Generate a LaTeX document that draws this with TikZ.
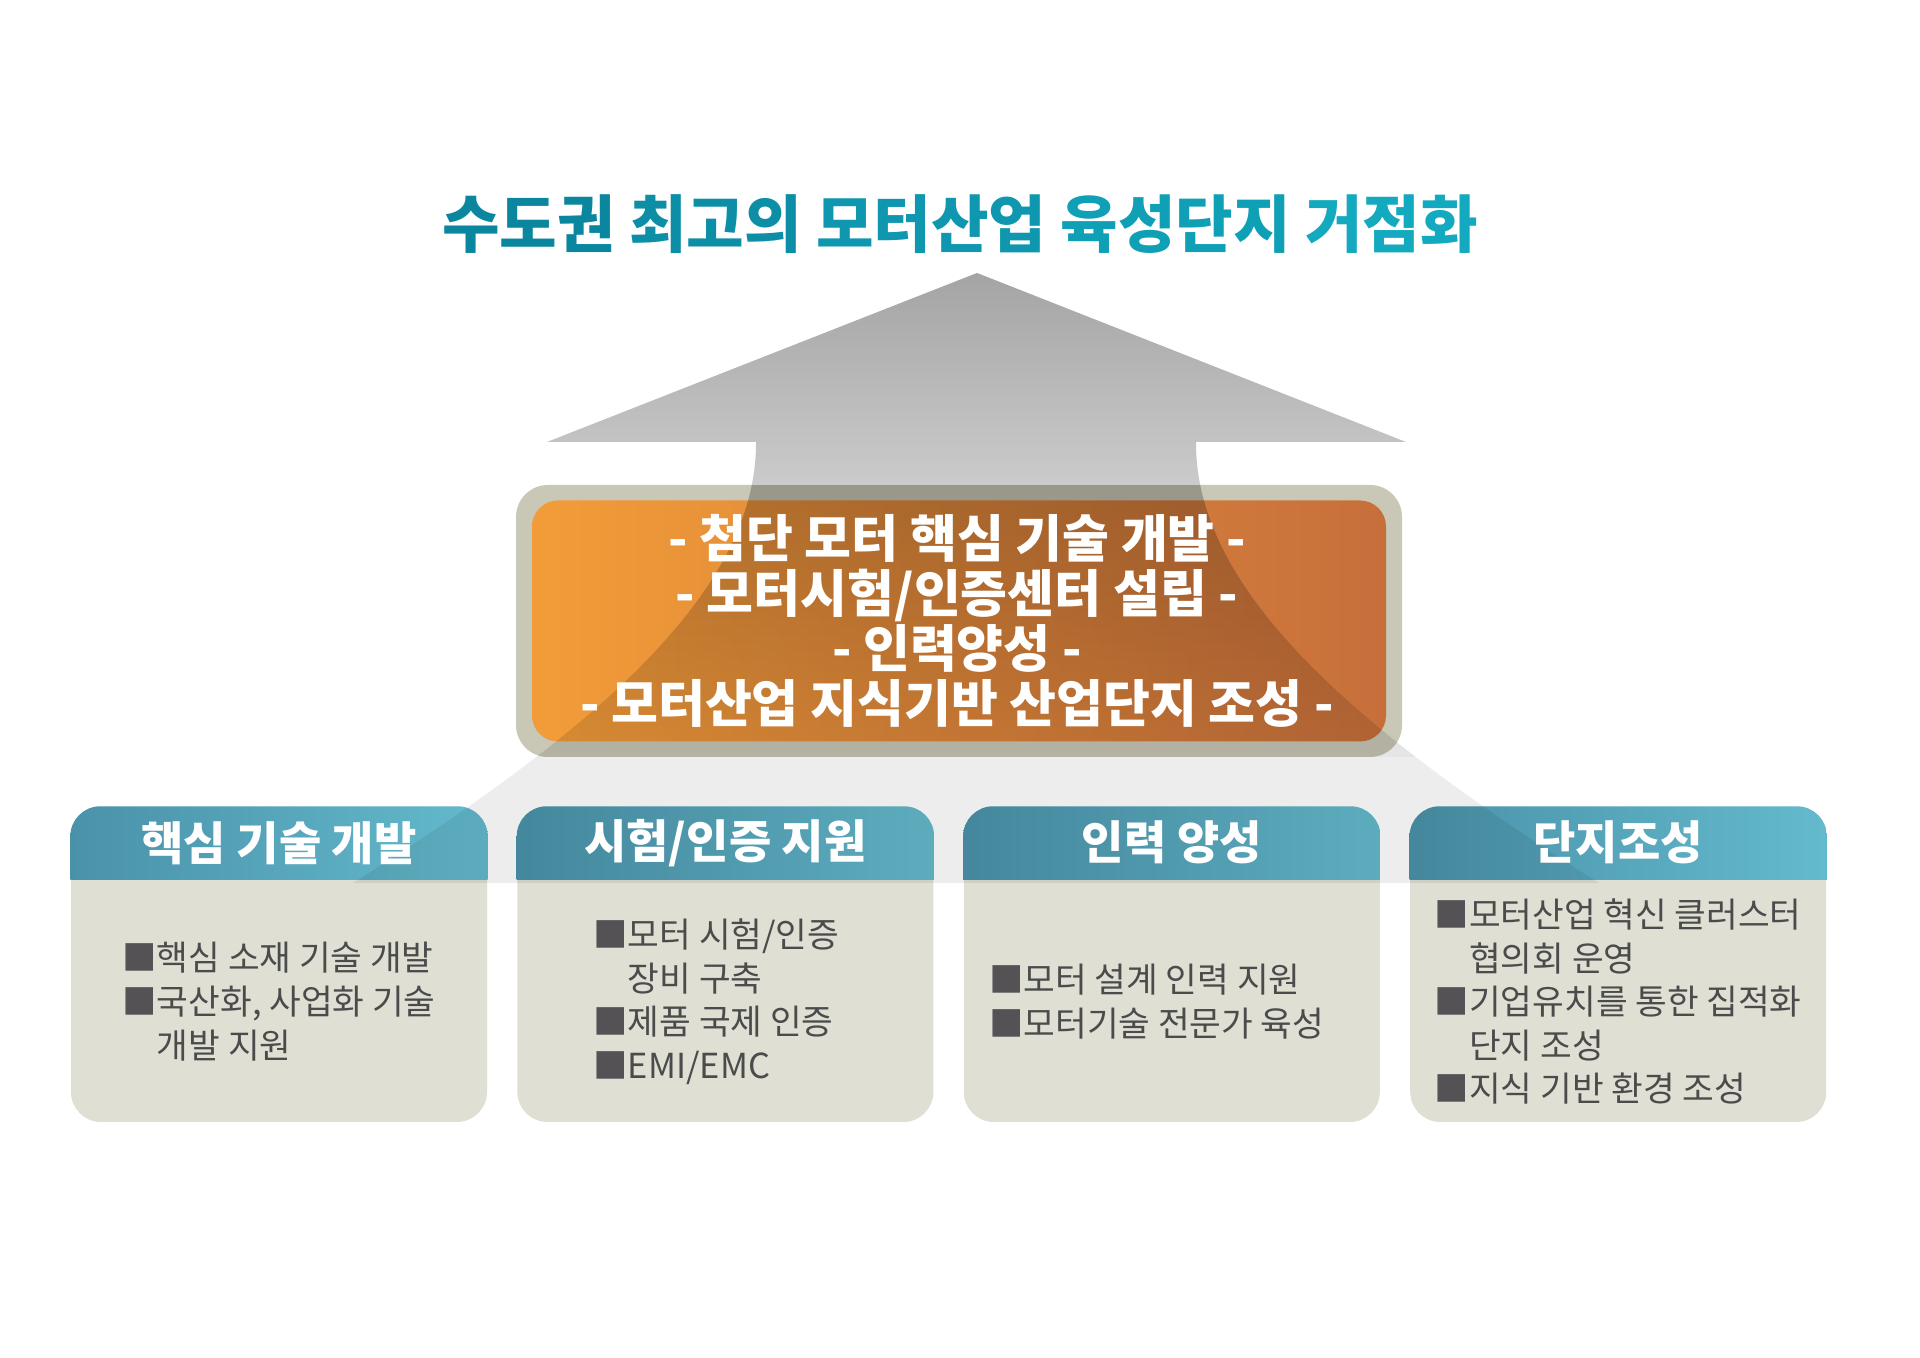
\documentclass[tikz,border=0pt]{standalone}
\usepackage{fontspec}
\newfontfamily\krfont{Noto Sans CJK KR}
\usetikzlibrary{positioning, fadings}

\definecolor{titleA}{HTML}{0B869F}
\definecolor{titleB}{HTML}{0C8EA7}
\definecolor{titleC}{HTML}{0E97AE}
\definecolor{titleD}{HTML}{10A0B6}
\definecolor{titleE}{HTML}{13A9BF}
\definecolor{headL}{HTML}{4A92AA}
\definecolor{headR}{HTML}{64BACD}
\definecolor{cardbg}{HTML}{DFDFD4}
\definecolor{itemgray}{HTML}{4B4B4B}
\definecolor{bulletgray}{HTML}{545254}
\definecolor{frameclr}{HTML}{C9C7B6}
\definecolor{orangeL}{HTML}{F29C39}
\definecolor{orangeR}{HTML}{C76F3B}
\definecolor{arrowtop}{HTML}{A4A4A4}
\definecolor{arrowbot}{HTML}{CBCBCB}

\tikzfading[name=boxfade, top color=transparent!76, bottom color=transparent!90]

\newcommand{\itm}{{\color{bulletgray}■}}
\newcommand{\ind}{\phantom{■}}
\newcommand{\trumpet}{(9.77,10.85) -- (14.06,9.16) -- (11.96,9.16) .. controls (11.95,7.65) and (13.61,6.25) .. (15.99,4.75) -- (3.53,4.75) .. controls (5.91,6.25) and (7.57,7.65) .. (7.56,9.16) -- (5.47,9.16) -- cycle}

\begin{document}
\begin{tikzpicture}[
    card/.style={rectangle, rounded corners=0.3cm, fill=cardbg, minimum width=4.16cm, minimum height=3.15cm, inner sep=0pt},
    headtext/.style={text=white, font={\krfont\bfseries\fontsize{13.1pt}{15pt}\selectfont}},
    itemtext/.style={text=itemgray, align=left, font={\krfont\fontsize{9.8pt}{12.4pt}\selectfont}},
    outerbox/.style={rectangle, rounded corners=0.32cm, fill=frameclr, minimum width=8.86cm, minimum height=2.72cm, inner sep=0pt},
    corebox/.style={rectangle, rounded corners=0.26cm, left color=orangeL, right color=orangeR, minimum width=8.54cm, minimum height=2.41cm, inner sep=0pt},
    coretext/.style={text=white, align=center, font={\krfont\bfseries\fontsize{14.5pt}{15.6pt}\selectfont}},
    titletext/.style={font={\krfont\bfseries\fontsize{17.8pt}{22pt}\selectfont}}
]
    \useasboundingbox (0,0) rectangle (19.2,13.58);
    \fill[white] (0,0) rectangle (19.2,13.58);

    % Cards
    \node[card] (cardA) at (2.79,3.935) {};
    \node[card, right=0.29cm of cardA] (cardB) {};
    \node[card, right=0.29cm of cardB] (cardC) {};
    \node[card, right=0.29cm of cardC] (cardD) {};
    \foreach \c in {cardA,cardB,cardC,cardD}{
        \begin{scope}
            \clip[rounded corners=0.3cm] (\c.south west) rectangle (\c.north east);
            \shade[left color=headL, right color=headR] (\c.north west) rectangle ([yshift=-0.73cm]\c.north east);
        \end{scope}
    }

    % Goals box
    \node[outerbox] (frameBox) at (9.59,7.37) {};
    \node[corebox] (coreBox) at (frameBox.center) {};

    % Arrow
    \begin{scope}
        \clip \trumpet;
        \shade[top color=arrowtop, bottom color=arrowbot] (3,10.85) rectangle (17,8.73);
        \fill[black, path fading=boxfade] (3,8.73) rectangle (17,6.01);
        \fill[black, opacity=0.07] (3,6.01) rectangle (17,4.75);
    \end{scope}

    % Texts
    \node[titletext] (vision) at (9.6,11.34) {\textcolor{titleA}{수도권} \textcolor{titleB}{최고의} \textcolor{titleC}{모터산업} \textcolor{titleD}{육성단지} \textcolor{titleE}{거점화}};
    \node[coretext] (goals) at (9.57,7.37) {- 첨단 모터 핵심 기술 개발 -\\- 모터시험/인증센터 설립 -\\- 인력양성 -\\- 모터산업 지식기반 산업단지 조성 -};

    \node[headtext] (headA) at ([yshift=-0.365cm]cardA.north) {핵심 기술 개발};
    \node[headtext] (headB) at ([yshift=-0.365cm]cardB.north) {시험/인증 지원};
    \node[headtext] (headC) at ([yshift=-0.365cm]cardC.north) {인력 양성};
    \node[headtext] (headD) at ([yshift=-0.365cm]cardD.north) {단지조성};

    \node[itemtext] (itemsA) at ([yshift=1.21cm]cardA.south) {\itm 핵심 소재 기술 개발\\\itm 국산화, 사업화 기술\\\ind 개발 지원};
    \node[itemtext] (itemsB) at ([xshift=-0.09cm, yshift=1.21cm]cardB.south) {\itm 모터 시험/인증\\\ind 장비 구축\\\itm 제품 국제 인증\\\itm EMI/EMC};
    \node[itemtext] (itemsC) at ([xshift=-0.15cm, yshift=1.21cm]cardC.south) {\itm 모터 설계 인력 지원\\\itm 모터기술 전문가 육성};
    \node[itemtext] (itemsD) at ([yshift=1.21cm]cardD.south) {\itm 모터산업 혁신 클러스터\\\ind 협의회 운영\\\itm 기업유치를 통한 집적화\\\ind 단지 조성\\\itm 지식 기반 환경 조성};
\end{tikzpicture}
\end{document}
